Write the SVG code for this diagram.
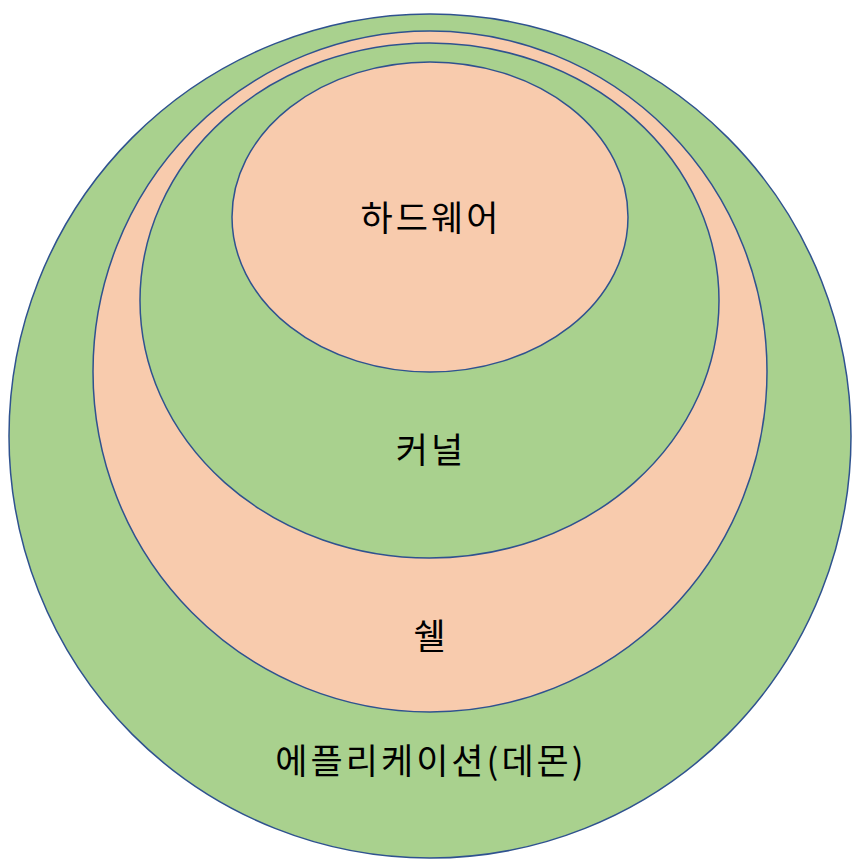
<svg xmlns="http://www.w3.org/2000/svg" width="856" height="865" viewBox="0 0 856 865">
<style>
.g{fill:#A9D18E;stroke:#2F528F;stroke-width:1.5}
.p{fill:#F8CBAD;stroke:#2F528F;stroke-width:1.5}
text{font-family:"Malgun Gothic","Noto Sans CJK KR",sans-serif;font-size:35px;fill:#000;text-anchor:middle;dominant-baseline:central;letter-spacing:3px}
</style>
<g id="app"><ellipse class="g" cx="430" cy="436" rx="421" ry="422"/><text x="431" y="758">에플리케이션(데몬)</text></g>
<g id="shell"><ellipse class="p" cx="430" cy="371.5" rx="337" ry="340.5"/><text x="431" y="633">쉘</text></g>
<g id="kernel"><ellipse class="g" cx="429.5" cy="300.5" rx="289.5" ry="257.5"/><text x="431" y="447">커널</text></g>
<g id="hw"><ellipse class="p" cx="430" cy="217" rx="198" ry="155"/><text x="431" y="215">하드웨어</text></g>
<g id="connectors"/>
</svg>
